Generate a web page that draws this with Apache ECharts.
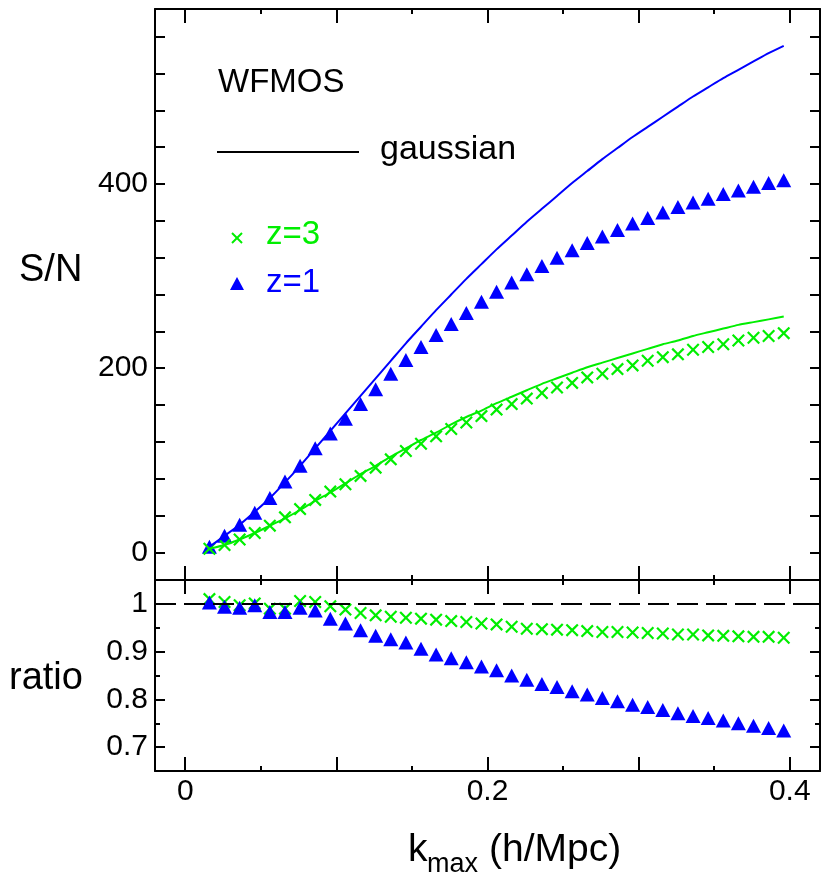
<!DOCTYPE html>
<html>
<head>
<meta charset="utf-8">
<title>WFMOS S/N</title>
<script src="https://cdn.jsdelivr.net/npm/echarts@6.0.0/dist/echarts.min.js"></script>
<style>
  html, body { margin: 0; padding: 0; background: #fff; }
  #chart { width: 830px; height: 893px; }
</style>
</head>
<body>
<div id="chart"></div>
<script>
  // k_max sample points (h/Mpc)
  const kVals = [0.016, 0.026, 0.036, 0.046, 0.056, 0.066, 0.076, 0.086, 0.096, 0.106,
    0.116, 0.126, 0.136, 0.146, 0.156, 0.166, 0.176, 0.186, 0.196, 0.206,
    0.216, 0.226, 0.236, 0.246, 0.256, 0.266, 0.276, 0.286, 0.296, 0.306,
    0.316, 0.326, 0.336, 0.346, 0.356, 0.366, 0.376, 0.386, 0.396]

  // S/N, z=1 (triangles) and its gaussian curve
  const snZ1 = [6, 18, 30, 43, 59, 77, 94, 113, 129, 145,
    161, 177, 194, 209, 223, 236, 248, 260, 272, 283,
    293, 302, 311, 320, 328, 336, 343, 350, 357, 363,
    369, 375, 380, 384, 389, 393, 397, 401, 404]
  const gaussZ1 = [6, 18, 30, 44, 59, 76, 94, 113, 132, 151,
    170, 189, 208, 227, 245, 263, 280, 297, 313, 329,
    344, 359, 373, 387, 401, 414, 427, 439, 451, 462,
    473, 484, 495, 505, 515, 524, 533, 542, 550]

  // S/N, z=3 (crosses) and its gaussian curve
  const snZ3 = [4, 8, 14, 21, 29, 38, 47, 57, 66, 74,
    83, 92, 101, 110, 118, 126, 134, 141, 148, 155,
    161, 167, 173, 179, 184, 190, 194, 199, 203, 208,
    212, 215, 220, 223, 226, 230, 233, 235, 238]
  const gaussZ3 = [4, 8, 14, 21, 29, 37, 46, 56, 65, 75,
    85, 94, 104, 113, 122, 130, 139, 147, 154, 162,
    169, 176, 183, 189, 195, 201, 206, 211, 216, 221,
    226, 230, 235, 239, 243, 247, 250, 253, 256]

  // ratio panel
  const ratioZ1 = [1.003, 0.994, 0.992, 0.997, 0.983, 0.983, 0.992, 0.986, 0.969, 0.959,
    0.945, 0.933, 0.926, 0.919, 0.906, 0.894, 0.886, 0.878, 0.869, 0.861,
    0.850, 0.841, 0.832, 0.826, 0.817, 0.810, 0.803, 0.796, 0.789, 0.784,
    0.778, 0.771, 0.765, 0.761, 0.756, 0.750, 0.745, 0.740, 0.735]
  const ratioZ3 = [1.010, 1.004, 0.997, 1.001, 0.990, 0.990, 1.006, 1.004, 0.995, 0.988,
    0.981, 0.976, 0.973, 0.971, 0.969, 0.967, 0.964, 0.962, 0.959, 0.957,
    0.952, 0.948, 0.947, 0.946, 0.945, 0.943, 0.941, 0.941, 0.940, 0.939,
    0.938, 0.936, 0.936, 0.934, 0.933, 0.932, 0.931, 0.931, 0.929]

  const xRange = [-0.02, 0.42]
  const snRange = [-30, 590]
  const ratioRange = [0.65, 1.05]
  const unityLine = 1

  const GREEN = '#00ee00'
  const BLUE = '#0000ff'
  const FONT = '"Liberation Sans", Arial, Helvetica, sans-serif'
  const crossIcon = 'path://M0,1.2L1.2,0L5,3.8L8.8,0L10,1.2L6.2,5L10,8.8L8.8,10L5,6.2L1.2,10L0,8.8L3.8,5Z'

  const pairs = (xs, ys) => xs.map((x, i) => [x, ys[i]])

  // one axis with inward ticks, used for all four sides of both panels
  function axis(grid, pos, range, opts) {
    const o = Object.assign({ labels: false, tick: 10, minor: 5, minorSplit: 2 }, opts)
    return {
      type: 'value',
      gridIndex: grid,
      position: pos,
      min: range[0],
      max: range[1],
      splitNumber: o.split,
      axisLine: { show: true, onZero: false, lineStyle: { color: '#000', width: 2 } },
      axisTick: { show: true, inside: true, length: o.tick, lineStyle: { color: '#000', width: 2 } },
      minorTick: { show: true, splitNumber: o.minorSplit, length: o.minor, lineStyle: { color: '#000', width: 2 } },
      splitLine: { show: false },
      minorSplitLine: { show: false },
      axisLabel: {
        show: o.labels,
        showMinLabel: false,
        showMaxLabel: false,
        color: '#000',
        fontFamily: FONT,
        fontSize: 30,
        margin: o.margin || 8,
        formatter: o.formatter
      }
    }
  }

  const xFmt = v => {
    const t = v * 10
    if (Math.abs(t - Math.round(t)) > 1e-6) return ''
    return Math.round(t) % 2 === 0 ? String(+v.toFixed(1)) : ''
  }

  const myChart = echarts.init(document.getElementById('chart'))

  const option = {
    backgroundColor: '#fff',
    animation: false,
    grid: [
      { left: 155, right: 10, top: 9, height: 571, containLabel: false, outerBoundsMode: 'none' },
      { left: 155, right: 10, top: 580, height: 191, containLabel: false, outerBoundsMode: 'none' }
    ],
    xAxis: [
      axis(0, 'bottom', xRange, { split: 5, tick: 14 }),
      axis(0, 'top', xRange, { split: 5, tick: 14 }),
      axis(1, 'bottom', xRange, { split: 5, tick: 14, labels: true, formatter: xFmt, margin: 6 }),
      axis(1, 'top', xRange, { split: 5, tick: 14 })
    ],
    yAxis: [
      axis(0, 'left', snRange, { split: 3, tick: 10, minor: 10, minorSplit: 5, labels: true, margin: 7 }),
      axis(0, 'right', snRange, { split: 3, tick: 10, minor: 10, minorSplit: 5 }),
      axis(1, 'left', ratioRange, { split: 4, tick: 10, minor: 5, minorSplit: 2, labels: true, margin: 7 }),
      axis(1, 'right', ratioRange, { split: 4, tick: 10, minor: 5, minorSplit: 2 })
    ],
    series: [
      {
        name: 'gaussian z=1', type: 'line', xAxisIndex: 0, yAxisIndex: 0,
        data: pairs(kVals, gaussZ1), showSymbol: false, symbol: 'none', smooth: 0.2,
        lineStyle: { color: BLUE, width: 2 }, silent: true
      },
      {
        name: 'gaussian z=3', type: 'line', xAxisIndex: 0, yAxisIndex: 0,
        data: pairs(kVals, gaussZ3), showSymbol: false, symbol: 'none', smooth: 0.2,
        lineStyle: { color: GREEN, width: 2 }, silent: true
      },
      {
        name: 'z=1', type: 'scatter', xAxisIndex: 0, yAxisIndex: 0,
        data: pairs(kVals, snZ1), symbol: 'triangle', symbolSize: [15, 14],
        itemStyle: { color: BLUE, opacity: 1 }
      },
      {
        name: 'z=3', type: 'scatter', xAxisIndex: 0, yAxisIndex: 0,
        data: pairs(kVals, snZ3), symbol: crossIcon, symbolSize: 13,
        itemStyle: { color: GREEN, opacity: 1 }
      },
      {
        name: 'ratio z=3', type: 'scatter', xAxisIndex: 2, yAxisIndex: 2,
        data: pairs(kVals, ratioZ3), symbol: crossIcon, symbolSize: 13,
        itemStyle: { color: GREEN, opacity: 1 },
        markLine: {
          silent: true, symbol: ['none', 'none'], label: { show: false },
          lineStyle: { color: '#000', width: 2, type: [21, 8] },
          data: [{ yAxis: unityLine }]
        }
      },
      {
        name: 'ratio z=1', type: 'scatter', xAxisIndex: 2, yAxisIndex: 2,
        data: pairs(kVals, ratioZ1), symbol: 'triangle', symbolSize: [15, 14],
        itemStyle: { color: BLUE, opacity: 1 }
      }
    ],
    graphic: [
      { type: 'text', left: 19, top: 252, style: { text: 'S/N', fontSize: 38, fontFamily: FONT, fill: '#000' } },
      { type: 'text', left: 9, top: 660, style: { text: 'ratio', fontSize: 38, fontFamily: FONT, fill: '#000' } },
      { type: 'text', left: 408, top: 831, style: { text: 'k', fontSize: 39, fontFamily: FONT, fill: '#000' } },
      { type: 'text', left: 427, top: 851, style: { text: 'max', fontSize: 27, fontFamily: FONT, fill: '#000' } },
      { type: 'text', left: 489, top: 831, style: { text: '(h/Mpc)', fontSize: 39, fontFamily: FONT, fill: '#000' } },
      // key
      { type: 'text', left: 218, top: 66, style: { text: 'WFMOS', fontSize: 33, fontFamily: FONT, fill: '#000' } },
      { type: 'line', shape: { x1: 217, y1: 152, x2: 359, y2: 152 }, style: { stroke: '#000', lineWidth: 2 } },
      { type: 'text', left: 380, top: 133, style: { text: 'gaussian', fontSize: 34, fontFamily: FONT, fill: '#000' } },
      { type: 'line', shape: { x1: 232, y1: 233, x2: 242, y2: 243 }, style: { stroke: GREEN, lineWidth: 2 } },
      { type: 'line', shape: { x1: 242, y1: 233, x2: 232, y2: 243 }, style: { stroke: GREEN, lineWidth: 2 } },
      { type: 'text', left: 266, top: 218, style: { text: 'z=3', fontSize: 33, fontFamily: FONT, fill: GREEN } },
      { type: 'polygon', shape: { points: [[230, 290], [244, 290], [237, 277]] }, style: { fill: BLUE } },
      { type: 'text', left: 266, top: 266, style: { text: 'z=1', fontSize: 33, fontFamily: FONT, fill: BLUE } }
    ]
  }

  myChart.setOption(option)
</script>
</body>
</html>
